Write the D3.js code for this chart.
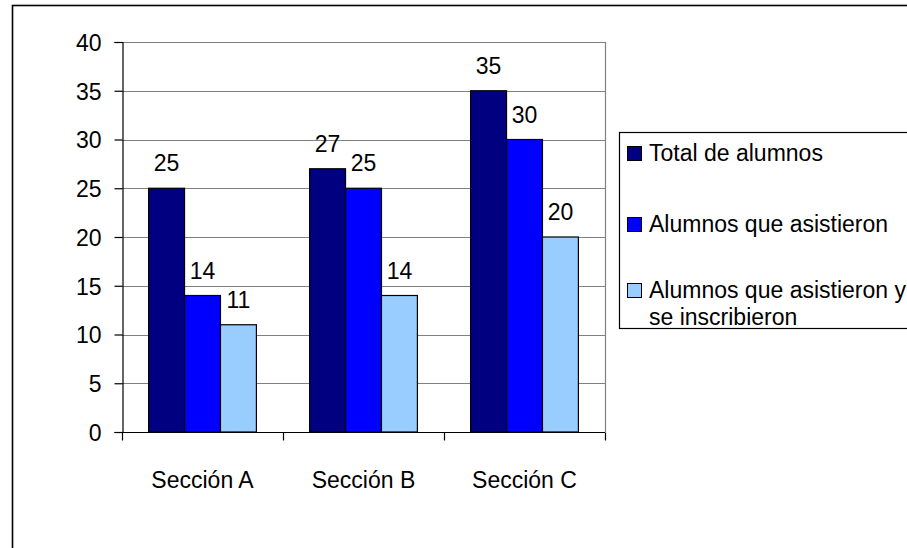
<!DOCTYPE html>
<html><head><meta charset="utf-8">
<script src="https://cdn.jsdelivr.net/npm/d3@7"></script>
<style>body{margin:0;background:#fff}svg{display:block}text{font-family:"Liberation Sans",Arial,sans-serif;fill:#000}</style>
</head><body>
<script>
const categories = ["Sección A", "Sección B", "Sección C"];
const seriesNames = ["Total de alumnos", "Alumnos que asistieron", "Alumnos que asistieron y se inscribieron"];
const totalAlumnos = [25, 27, 35];
const asistieron = [14, 25, 30];
const inscribieron = [11, 14, 20];
const yTicks = [0, 5, 10, 15, 20, 25, 30, 35, 40];
const colors = ["#000080", "#0000FF", "#99CCFF"];

const series = [totalAlumnos, asistieron, inscribieron];
const W = 907, H = 548;
const svg = d3.select("body").append("svg").attr("width", W).attr("height", H);

// outer chart border
svg.append("rect").attr("x", 12.5).attr("y", 5.5).attr("width", 940).attr("height", 600)
  .attr("fill", "none").attr("stroke", "#000").attr("stroke-width", 1.6);

const x0 = 122, x1 = 605, yTop = 42, yBot = 432;
const y = d3.scaleLinear().domain([0, 40]).range([yBot, yTop]);
const xb = d3.scaleBand().domain(categories).range([x0, x1]).paddingInner(0).paddingOuter(0);
const xs = d3.scaleBand().domain(d3.range(3)).range([0, xb.bandwidth()]).paddingOuter(0.74).paddingInner(0);

const g = svg.append("g");
// gridlines
g.selectAll("line.grid").data(yTicks.filter(d => d > 0)).join("line")
  .attr("x1", x0).attr("x2", x1).attr("y1", d => Math.round(y(d)) + 0.5).attr("y2", d => Math.round(y(d)) + 0.5)
  .attr("stroke", "#808080").attr("stroke-width", 1.2);
// right plot border
g.append("line").attr("x1", x1 + 0.5).attr("x2", x1 + 0.5).attr("y1", yTop).attr("y2", yBot)
  .attr("stroke", "#808080").attr("stroke-width", 1.2);

// bars
categories.forEach((c, ci) => {
  series.forEach((s, si) => {
    const v = s[ci];
    const bx = xb(c) + xs(si);
    g.append("rect").attr("x", bx).attr("y", y(v)).attr("width", xs.bandwidth()).attr("height", yBot - y(v))
      .attr("fill", colors[si]).attr("stroke", "#000").attr("stroke-width", 1.2);
    g.append("text").attr("x", bx + xs.bandwidth() / 2).attr("y", y(v) - 17)
      .attr("text-anchor", "middle").attr("font-size", 23).text(v);
  });
});

// y axis
const yAxis = d3.axisLeft(y).tickValues(yTicks).tickSize(8).tickPadding(13);
const ya = svg.append("g").attr("transform", `translate(${x0 + 0.5},0)`).call(yAxis);
ya.select(".domain").attr("stroke", "#000").attr("stroke-width", 1.2);
ya.selectAll(".tick line").attr("stroke", "#000").attr("stroke-width", 1.2);
ya.selectAll(".tick text").attr("font-size", 23).attr("font-family", "Liberation Sans, Arial, sans-serif").attr("fill", "#000").attr("dy", "0.36em");

// x axis
const xa = svg.append("g").attr("transform", `translate(0,${yBot + 0.5})`);
xa.append("line").attr("x1", x0).attr("x2", x1).attr("stroke", "#000").attr("stroke-width", 1.2);
const tickPos = categories.map(c => xb(c)).concat([x1]);
xa.selectAll("line.t").data(tickPos).join("line").attr("x1", d => d + 0.5).attr("x2", d => d + 0.5)
  .attr("y1", 0).attr("y2", 8).attr("stroke", "#000").attr("stroke-width", 1.2);
xa.selectAll("text").data(categories).join("text")
  .attr("x", d => xb(d) + xb.bandwidth() / 2).attr("y", 55).attr("text-anchor", "middle")
  .attr("font-size", 23).text(d => d);

// legend
const lg = svg.append("g");
lg.append("rect").attr("x", 619.5).attr("y", 132.5).attr("width", 320).attr("height", 196)
  .attr("fill", "#fff").attr("stroke", "#000").attr("stroke-width", 1.2);
const legendRows = [
  {lines: ["Total de alumnos"], base: 161},
  {lines: ["Alumnos que asistieron"], base: 232},
  {lines: ["Alumnos que asistieron y", "se inscribieron"], base: 298}
];
legendRows.forEach((r, i) => {
  lg.append("rect").attr("x", 627.5).attr("y", r.base - 14.5).attr("width", 14).attr("height", 14)
    .attr("fill", colors[i]).attr("stroke", "#000").attr("stroke-width", 1);
  r.lines.forEach((t, li) => {
    lg.append("text").attr("x", 649).attr("y", r.base + li * 27).attr("font-size", 23).text(t);
  });
});
</script>
</body></html>
